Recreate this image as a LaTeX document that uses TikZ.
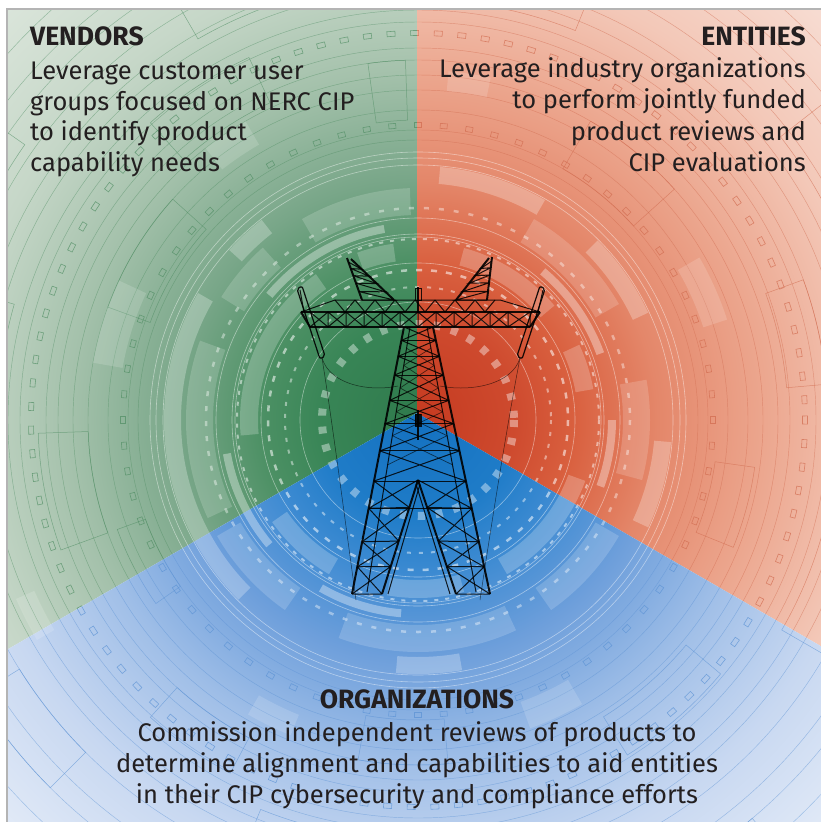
\documentclass[tikz,border=0pt]{standalone}
\usepackage{fontspec}
\setmainfont{Fira Sans}
\usetikzlibrary{calc}
\definecolor{txt}{HTML}{231F20}
\definecolor{g0}{HTML}{2F7A4C}\definecolor{g1}{HTML}{388556}\definecolor{g2}{HTML}{4C9064}
\definecolor{g3}{HTML}{78A688}\definecolor{g4}{HTML}{A4C1AB}\definecolor{g5}{HTML}{C6D7C8}\definecolor{g6}{HTML}{DDE7DD}
\definecolor{r0}{HTML}{C53A20}\definecolor{r1}{HTML}{CE4A2E}\definecolor{r2}{HTML}{D9603F}
\definecolor{r3}{HTML}{E4876A}\definecolor{r4}{HTML}{ECA78F}\definecolor{r5}{HTML}{F3C8B8}\definecolor{r6}{HTML}{F8E0D7}
\definecolor{b0}{HTML}{1471C0}\definecolor{b1}{HTML}{1F7CC8}\definecolor{b2}{HTML}{3E8BD2}
\definecolor{b3}{HTML}{6E9FDB}\definecolor{b4}{HTML}{A2C0E8}\definecolor{b5}{HTML}{C8D8F1}\definecolor{b6}{HTML}{E6EDF8}
\definecolor{gline}{HTML}{4F8D63}\definecolor{rline}{HTML}{D06A4E}\definecolor{bline}{HTML}{5B92D4}
\definecolor{frame}{HTML}{B4B4B4}
\pgfdeclareradialshading{gsh}{\pgfpoint{0bp}{0bp}}{color(0bp)=(g0); color(4bp)=(g1); color(6.5bp)=(g2); color(10bp)=(g3); color(14.5bp)=(g4); color(19bp)=(g5); color(25bp)=(g6); color(50bp)=(g6)}
\pgfdeclareradialshading{rsh}{\pgfpoint{0bp}{0bp}}{color(0bp)=(r0); color(4bp)=(r1); color(6.5bp)=(r2); color(10bp)=(r3); color(14.5bp)=(r4); color(19bp)=(r5); color(25bp)=(r6); color(50bp)=(r6)}
\pgfdeclareradialshading{bsh}{\pgfpoint{0bp}{0bp}}{color(0bp)=(b0); color(4bp)=(b1); color(6.5bp)=(b2); color(10bp)=(b3); color(14.5bp)=(b4); color(19bp)=(b5); color(25bp)=(b6); color(50bp)=(b6)}
% annular box: angles #1,#2 radii #3,#4
\newcommand\annbox[4]{({#1}:{#3}) arc ({#1}:{#2}:{#3}) -- ({#2}:{#4}) arc ({#2}:{#1}:{#4}) -- cycle}
\newcommand\deco[1]{%
\begin{scope}[shift={(418,420)}]
  \draw[#1,line width=.45,opacity=.5]
    \foreach \rr in {280,290,310,330,345,360,372,398,410,430,445,470,500,520,550,580} { (0,0) circle (\rr) };
  \draw[#1,line width=.5,opacity=.6]
    \foreach \aa/\bb/\pp/\qq in {160/178/330/380,182/196/420/470,200/222/285/330,205/215/480/540,228/245/350/400,240/255/440/490,262/268/300/360,280/292/420/470,300/318/290/345,322/335/460/520,340/355/370/410,8/22/300/340,15/30/420/480,40/58/350/395,62/75/470/530,85/100/300/345,100/112/420/460,118/132/360/400,135/148/470/520,145/160/290/320,168/176/500/560,250/260/510/560,355/365/520/570,50/60/520/570}
      { \annbox{\aa}{\bb}{\pp}{\qq} };
  \draw[#1,line width=.6,opacity=.7]
    \foreach \aa in {0,5,...,355} { \annbox{\aa-0.68}{\aa+0.68}{292.5}{297.5} };
  \draw[#1,line width=.6,opacity=.7]
    \foreach \aa in {0,3.5,...,357} { \annbox{\aa-0.6}{\aa+0.6}{384.5}{389.5} };
  \fill[white,opacity=.22]
    \foreach \aa/\bb in {175/235,250/262,285/320,335/350,20/60,75/100,120/145} { \annbox{\aa}{\bb}{160}{178} };
  \fill[white,opacity=.17]
    \foreach \aa/\bb in {155/200,212/228,240/268,300/330,350/375,30/55,65/110,125/150} { \annbox{\aa}{\bb}{205}{232} };
  \fill[white,opacity=.26]
    \foreach \aa/\bb in {150/210,222/232,275/300,315/335,5/25,80/95,135/160} { \annbox{\aa}{\bb}{237}{254} };
  \fill[white,opacity=.35]
    \foreach \aa/\bb in {140/170,220/260,310/340,0/20,95/120} { \annbox{\aa}{\bb}{190}{198} };
  \fill[white,opacity=.15]
    \foreach \aa/\bb/\pp/\qq in {190/205/300/330,232/240/318/345,330/342/300/325,60/70/300/328,112/120/318/340,150/156/420/440,275/282/330/350}
      { \annbox{\aa}{\bb}{\pp}{\qq} };
  \draw[white,line width=.6,opacity=.45]
    \foreach \rr in {118,157,183,186,202,255,262,268} { (0,0) circle (\rr) };
  \draw[white,line width=8pt,opacity=.4,dash pattern=on 7pt off 11pt] (0,0) circle (96);
  \draw[white,line width=2pt,opacity=.45,dash pattern=on 4pt off 8pt] (0,0) circle (133);
  \draw[white,line width=2.5pt,opacity=.55,dash pattern=on 6pt off 9pt] (0,0) circle (150);
  \draw[white,line width=2pt,opacity=.5,dash pattern=on 4pt off 7pt] (0,0) circle (181);
  \draw[white,line width=2.5pt,opacity=.4,dash pattern=on 5pt off 10pt] (0,0) circle (212);
\end{scope}}
\tikzset{
  tw/.style={draw=black,line width=2pt,opacity=.9,line join=round},
  tb/.style={draw=black,line width=1pt,opacity=.85},
  tbb/.style={draw=black,line width=.7pt,opacity=.6},
  wire/.style={draw=black,line width=.5pt,opacity=.6},
  head/.style={text=txt,font=\fontsize{26.5}{30}\selectfont\bfseries,inner sep=0pt},
  body/.style={text=txt,font=\fontsize{25.5}{30}\selectfont,inner sep=0pt}
}
\begin{document}
\begin{tikzpicture}[x=1pt,y=-1pt]
\useasboundingbox (0,0) rectangle (821,822);
\fill[white] (0,0) rectangle (821,822);
\begin{scope}
  \clip (417,413) -- (417,9) -- (7,9) -- (7,649.7) -- cycle;
  \shade[shading=gsh] (418,420) circle (600);
  \deco{gline}
\end{scope}
\begin{scope}
  \clip (417,413) -- (417,9) -- (821,9) -- (821,646.2) -- cycle;
  \shade[shading=rsh] (418,420) circle (600);
  \deco{rline}
\end{scope}
\begin{scope}
  \clip (417,413) -- (7,649.7) -- (7,822) -- (821,822) -- (821,646.2) -- cycle;
  \shade[shading=bsh] (418,420) circle (600);
  \deco{bline}
\end{scope}
\draw[frame,line width=1.5pt] (7,823) -- (7,9) -- (822,9);

% ---------------- tower ----------------
\coordinate (FLt) at (404,327); \coordinate (FLb) at (352,594);
\coordinate (FRt) at (433,327); \coordinate (FRb) at (490,594);
\coordinate (BLt) at (410,327); \coordinate (BLb) at (367,592);
\coordinate (BRt) at (427,327); \coordinate (BRb) at (476,592);
\coordinate (A) at (418,480); \coordinate (ALb) at (382,594); \coordinate (ARb) at (456,594);
\draw[tw] (FLt) -- (FLb); \draw[tw] (FRt) -- (FRb);
\draw[tb] (BLt) -- (BLb); \draw[tb] (BRt) -- (BRb);
\draw[tb] \foreach \tt in {0,0.05,0.11,0.18,0.275,0.362,0.464,0.577,0.679}
  { ($(FLt)!\tt!(FLb)$) -- ($(FRt)!\tt!(FRb)$) };
\draw[tb] \foreach \tt/\uu in {0/0.05,0.05/0.11,0.11/0.18,0.18/0.275,0.275/0.362,0.362/0.464,0.464/0.577}
  { ($(FLt)!\tt!(FLb)$) -- ($(FRt)!\uu!(FRb)$) ($(FRt)!\tt!(FRb)$) -- ($(FLt)!\uu!(FLb)$) };
\draw[tbb] \foreach \tt/\uu in {0.08/0.145,0.145/0.23,0.23/0.32,0.32/0.41,0.41/0.52}
  { ($(BLt)!\tt!(BLb)$) -- ($(BRt)!\uu!(BRb)$) ($(BRt)!\tt!(BRb)$) -- ($(BLt)!\uu!(BLb)$) };
\draw[tw] (A) -- (ALb); \draw[tw] (A) -- (ARb);
\draw[tb] ($(A)+(2,4)$) -- ($(ALb)+(6,0)$); \draw[tb] ($(A)+(-2,4)$) -- ($(ARb)+(-6,0)$);
\draw[tb] \foreach \ta/\sa/\tb/\sb in {.577/0/.679/.241,.679/.241/.804/.536,.804/.536/.898/.759,.898/.759/1/1}
  { ($(FLt)!\ta!(FLb)$) -- ($(A)!\sb!(ALb)$)
    ($(A)!\sa!(ALb)$) -- ($(FLt)!\tb!(FLb)$)
    ($(FRt)!\ta!(FRb)$) -- ($(A)!\sb!(ARb)$)
    ($(A)!\sa!(ARb)$) -- ($(FRt)!\tb!(FRb)$)
    ($(FLt)!\tb!(FLb)$) -- ($(A)!\sb!(ALb)$)
    ($(FRt)!\tb!(FRb)$) -- ($(A)!\sb!(ARb)$) };
\draw[tw] (418,410) -- (418,440);
\draw[tb,fill=black] (415,414) rectangle (421,426);
% crossarm
\draw[tw] (301,312) -- (540,312);
\draw[tw] (310,327) -- (530,327);
\draw[tw] (301,312) -- (310,327); \draw[tw] (540,312) -- (530,327);
\draw[tb] \foreach \xa/\xb in {310/328,328/346,346/364,364/382,382/400,400/418,418/436,436/454,454/472,472/490,490/508,508/530}
  { (\xa,312) -- (\xb,327) (\xa,327) -- (\xb,312) (\xb,312) -- (\xb,327) };
\draw[tb] (301,312) -- (335,300) -- (500,300) -- (540,312);
\draw[tb] \foreach \xx in {335,355,...,475} { (\xx,300) -- ({\xx+10},312) -- ({\xx+20},300) };
% left peak
\coordinate (LPa) at (347,258); \coordinate (LPb) at (362,300);
\coordinate (LPc) at (351,259); \coordinate (LPd) at (394,300);
\draw[tw] (LPa) -- (LPb); \draw[tw] (LPc) -- (LPd);
\draw[tb] \foreach \tt/\uu in {0.1/0.25,0.25/0.42,0.42/0.6,0.6/0.8,0.8/1}
  { ($(LPa)!\tt!(LPb)$) -- ($(LPc)!\uu!(LPd)$) -- ($(LPa)!\uu!(LPb)$) };
% right peak
\coordinate (RPa) at (492,257); \coordinate (RPb) at (487,300);
\coordinate (RPc) at (489,258); \coordinate (RPd) at (456,300);
\draw[tw] (RPa) -- (RPb); \draw[tw] (RPc) -- (RPd);
\draw[tb] \foreach \tt/\uu in {0.1/0.25,0.25/0.42,0.42/0.6,0.6/0.8,0.8/1}
  { ($(RPa)!\tt!(RPb)$) -- ($(RPc)!\uu!(RPd)$) -- ($(RPa)!\uu!(RPb)$) };
% center mast
\draw[tw] (418,287) -- (418,312);
\draw[tb] (415,288) rectangle (421,300);
% insulators
\draw[tw,line width=1.2pt,rounded corners=2pt] (297,289) -- (302,286) -- (325,356) -- (320,359) -- cycle;
\draw[tw,line width=1.2pt,rounded corners=2pt] (540,286) -- (545,289) -- (522,359) -- (517,356) -- cycle;
\draw[tb] (300,290) -- (304,312); \draw[tb] (543,290) -- (538,312);
% wires
\draw[wire] (322,358) .. controls (332,420) and (345,520) .. (356,600);
\draw[wire] (520,358) .. controls (508,420) and (492,520) .. (480,600);
\draw[wire] (322,358) .. controls (330,385) and (370,392) .. (398,386);
\draw[wire] (520,358) .. controls (512,385) and (470,392) .. (440,386);

% ---------------- text ----------------
\node[head,anchor=base west] (v0) at (30,45) {VENDORS};
\node[body,anchor=base west] (v1) at (30,79) {Leverage customer user};
\node[body,anchor=base west] (v2) at (30,110) {groups focused on NERC CIP};
\node[body,anchor=base west] (v3) at (30,140.5) {to identify product};
\node[body,anchor=base west] (v4) at (30,171) {capability needs};
\node[head,anchor=base east] (e0) at (806,45) {ENTITIES};
\node[body,anchor=base east] (e1) at (806,77) {Leverage industry organizations};
\node[body,anchor=base east] (e2) at (806,108.5) {to perform jointly funded};
\node[body,anchor=base east] (e3) at (806,140) {product reviews and};
\node[body,anchor=base east] (e4) at (806,171.5) {CIP evaluations};
\node[head,anchor=base] (o0) at (417,708) {ORGANIZATIONS};
\node[body,anchor=base] (o1) at (417,741) {Commission independent reviews of products to};
\node[body,anchor=base] (o2) at (417,772) {determine alignment and capabilities to aid entities};
\node[body,anchor=base] (o3) at (417,803) {in their CIP cybersecurity and compliance efforts};
\end{tikzpicture}
\end{document}
